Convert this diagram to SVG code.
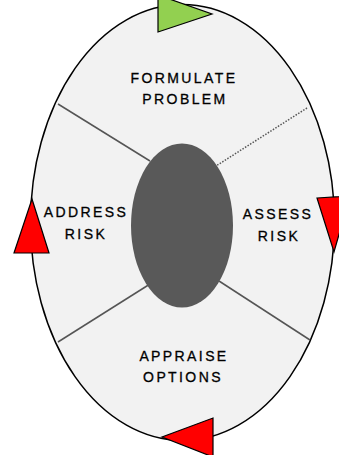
<svg xmlns="http://www.w3.org/2000/svg" width="339" height="455" viewBox="0 0 339 455">
<style>
.lbl{font-family:"Liberation Sans",Arial,sans-serif;font-size:14px;letter-spacing:2.4px;fill:#000;stroke:#000;stroke-width:0.3;text-anchor:middle}
.div{stroke:#555;stroke-width:1.5;fill:none}
.dot{stroke:#555;stroke-width:1.5;fill:none;stroke-dasharray:1.5 1.5}
.red{fill:#ff0000;stroke:#000;stroke-width:1.2;stroke-linejoin:miter}
.grn{fill:#92d050;stroke:#000;stroke-width:1.2}
</style>
<rect width="339" height="455" fill="#fff"/>
<g id="ring">
<ellipse cx="182.5" cy="222.5" rx="152" ry="218" fill="#f2f2f2" stroke="#000" stroke-width="1.5"/>
</g>
<g id="connectors">
<line class="div" x1="58" y1="104" x2="150" y2="161"/>
<line class="dot" x1="307" y1="108" x2="216" y2="166"/>
<line class="div" x1="58" y1="342" x2="150" y2="284"/>
<line class="div" x1="219" y1="281" x2="310" y2="340"/>
</g>
<g id="center">
<ellipse cx="182" cy="225.5" rx="51" ry="82" fill="#595959"/>
</g>
<g id="formulate">
<text class="lbl" x="184" y="83">FORMULATE</text>
<text class="lbl" x="185" y="104">PROBLEM</text>
</g>
<g id="address">
<text class="lbl" x="86" y="217">ADDRESS</text>
<text class="lbl" x="86" y="239">RISK</text>
</g>
<g id="assess">
<text class="lbl" x="278" y="219">ASSESS</text>
<text class="lbl" x="279" y="241">RISK</text>
</g>
<g id="appraise">
<text class="lbl" x="184" y="361">APPRAISE</text>
<text class="lbl" x="183" y="382">OPTIONS</text>
</g>
<g id="arrows">
<polygon class="grn" points="158,-5 158,32 212,14"/>
<polygon class="red" points="317,198 350,196 334,252"/>
<polygon class="red" points="32,199 14,253 49,253"/>
<polygon class="red" points="213,418 213,457 162,437"/>
</g>
</svg>
